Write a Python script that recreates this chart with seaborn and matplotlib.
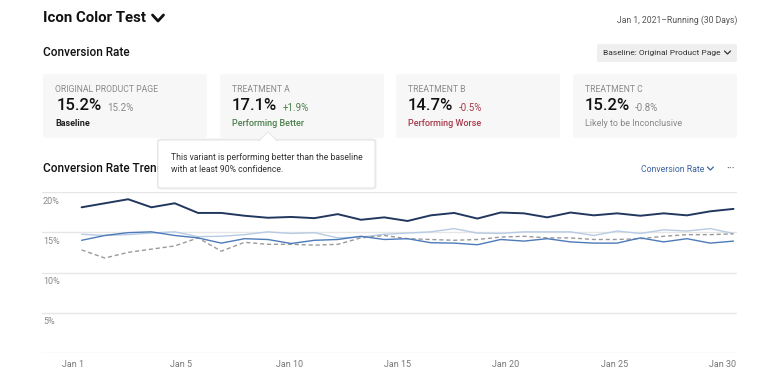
import numpy as np
import pandas as pd
import seaborn as sns
import matplotlib.pyplot as plt
from matplotlib.patches import FancyBboxPatch, Polygon
from matplotlib.lines import Line2D

W, H = 784, 378

# daily conversion rate (%)
day_index = list(range(29))
treatment_a = [18.1, 18.6, 19.1, 18.1, 18.6, 17.4, 17.4, 17.05, 16.8, 16.9,
               16.75, 17.25, 16.55, 16.85, 16.4, 17.1, 17.4, 16.7, 17.45, 17.35,
               16.85, 17.45, 17.1, 17.35, 17.05, 17.35, 17.1, 17.6, 17.9]
treatment_b = [14.0, 14.6, 14.95, 15.05, 14.6, 14.3, 13.65, 14.2, 14.1, 13.6,
               14.0, 14.1, 14.5, 14.1, 14.2, 13.7, 13.65, 13.45, 14.1, 13.9,
               14.2, 13.8, 13.65, 13.65, 14.3, 13.8, 14.2, 13.65, 13.9]
treatment_c = [14.75, 14.6, 14.7, 14.9, 15.05, 14.45, 14.5, 14.7, 15.05, 14.85,
               14.95, 14.3, 14.4, 14.75, 14.9, 15.05, 15.45, 14.9, 14.85, 15.05,
               15.05, 15.05, 14.6, 15.15, 14.85, 15.3, 15.15, 15.45, 14.85]
original = [12.8, 11.8, 12.5, 12.9, 13.3, 14.3, 12.65, 13.75, 13.5, 13.5,
            13.4, 13.5, 14.3, 14.6, 14.2, 14.1, 14.0, 14.1, 14.4, 14.5,
            14.3, 14.3, 14.1, 14.1, 14.2, 14.5, 14.7, 14.7, 14.8]

x_labels = ["Jan 1", "Jan 5", "Jan 10", "Jan 15", "Jan 20", "Jan 25", "Jan 30"]
y_ticks = [5, 10, 15, 20]
y_labels = ["5%", "10%", "15%", "20%"]

card_titles = ["ORIGINAL PRODUCT PAGE", "TREATMENT A", "TREATMENT B", "TREATMENT C"]
card_values = ["15.2%", "17.1%", "14.7%", "15.2%"]
card_deltas = ["15.2%", "+1.9%", "-0.5%", "-0.8%"]
card_status = ["Baseline", "Performing Better", "Performing Worse", "Likely to be Inconclusive"]


def fx(px):
    return px / W


def fy(py):
    return 1 - py / H


def chevron(fig, cx, cy, w, h, color, lw):
    fig.add_artist(Line2D([fx(cx - w / 2), fx(cx), fx(cx + w / 2)],
                          [fy(cy - h / 2), fy(cy + h / 2), fy(cy - h / 2)],
                          color=color, lw=lw, solid_capstyle='round',
                          solid_joinstyle='round'))


def right_edge(fig, txt):
    # pixel x of the right end of a text
    bb = txt.get_window_extent(fig.canvas.get_renderer())
    return bb.x1


sns.set_theme(style="white")
plt.rcParams['font.family'] = ['Roboto', 'DejaVu Sans']

fig = plt.figure(figsize=(W / 100, H / 100), dpi=100)
fig.patch.set_facecolor('white')

# header
t = fig.text(fx(43), fy(18), "Icon Color Test", fontsize=10.8, fontweight='bold',
             color='#111111', va='center', ha='left')
chevron(fig, right_edge(fig, t) + 12, 18, 11, 6, '#111111', 2.0)
fig.text(fx(737), fy(20), "Jan 1, 2021\u2013Running (30 Days)", fontsize=6.2,
         color='#555555', va='center', ha='right')
fig.text(fx(43), fy(52), "Conversion Rate", fontsize=8.5, fontweight='medium',
         color='#111111', va='center', ha='left')

# baseline dropdown
fig.add_artist(FancyBboxPatch((fx(597), fy(62)), fx(140), 18 / H,
                              boxstyle="round,pad=0,rounding_size=0.004",
                              fc='#efefef', ec='none', transform=fig.transFigure))
t = fig.text(fx(603), fy(53), "Baseline: Original Product Page", fontsize=6.0,
             color='#333333', va='center', ha='left')
chevron(fig, right_edge(fig, t) + 7, 52.5, 6, 3, '#333333', 0.9)

# metric cards
card_left = [43, 220, 396, 573]
delta_colors = ['#888888', '#4b7f4b', '#a83a4a', '#888888']
status_colors = ['#222222', '#4b7f4b', '#a83a4a', '#888888']
status_weight = ['bold', 'medium', 'medium', 'normal']
for i in range(4):
    x0 = card_left[i]
    fig.add_artist(FancyBboxPatch((fx(x0), fy(138)), fx(164), 64 / H,
                                  boxstyle="round,pad=0,rounding_size=0.005",
                                  fc='#f7f7f7', ec='none', transform=fig.transFigure))
    fig.text(fx(x0 + 12), fy(89), card_titles[i], fontsize=6.2, color='#8a8a8a',
             va='center', ha='left')
    t = fig.text(fx(x0 + 14 if i == 0 else x0 + 12), fy(106), card_values[i],
                 fontsize=12, fontweight='medium', color='#111111',
                 va='center', ha='left')
    fig.text(fx(right_edge(fig, t) + 5), fy(108), card_deltas[i], fontsize=7.0,
             color=delta_colors[i], va='center', ha='left')
    fig.text(fx(x0 + 12), fy(124), card_status[i], fontsize=6.5,
             fontweight=status_weight[i], color=status_colors[i], va='center', ha='left')

# trend header
fig.text(fx(43), fy(169), "Conversion Rate Trend", fontsize=8.5, fontweight='medium',
         color='#111111', va='center', ha='left', zorder=1)
t = fig.text(fx(641), fy(169), "Conversion Rate", fontsize=6.3, color='#3c64a0',
             va='center', ha='left')
chevron(fig, right_edge(fig, t) + 6, 168.5, 6, 3, '#3c64a0', 0.9)
fig.text(fx(731), fy(168), "\u00b7\u00b7\u00b7", fontsize=7, fontweight='bold',
         color='#777777', va='center', ha='center')

# tooltip
fig.add_artist(FancyBboxPatch((fx(157), fy(189.5)), fx(219.5), 51 / H,
                              boxstyle="round,pad=0,rounding_size=0.006",
                              fc='#e6e6e6', ec='none', alpha=0.7,
                              transform=fig.transFigure, zorder=5))
fig.add_artist(FancyBboxPatch((fx(158), fy(188)), fx(217), 48 / H,
                              boxstyle="round,pad=0,rounding_size=0.006",
                              fc='white', ec='#e2e2e2', lw=0.6,
                              transform=fig.transFigure, zorder=6))
fig.add_artist(Polygon([(fx(259), fy(140.5)), (fx(268), fy(132)), (fx(277), fy(140.5))],
                       closed=True, fc='white', ec='#e2e2e2', lw=0.6,
                       transform=fig.transFigure, zorder=6))
fig.add_artist(Polygon([(fx(259.8), fy(141)), (fx(268), fy(133)), (fx(276.2), fy(141))],
                       closed=True, fc='white', ec='none',
                       transform=fig.transFigure, zorder=7))
fig.text(fx(171), fy(158), "This variant is performing better than the baseline",
         fontsize=6.2, color='#333333', va='center', ha='left', zorder=8)
fig.text(fx(171), fy(169.5), "with at least 90% confidence.",
         fontsize=6.2, color='#333333', va='center', ha='left', zorder=8)

# chart
ax = fig.add_axes([fx(42), fy(353), fx(695), 161 / H])
df = pd.DataFrame({
    'day': day_index * 4,
    'rate': treatment_a + treatment_b + treatment_c + original,
    'series': (['Treatment A'] * 29 + ['Treatment B'] * 29 +
               ['Treatment C'] * 29 + ['Original Product Page'] * 29),
})
palette = {'Treatment A': '#22375e', 'Treatment B': '#4d7ab8',
           'Treatment C': '#b7cbe4', 'Original Product Page': '#9a9a9a'}
order = ['Treatment C', 'Original Product Page', 'Treatment B', 'Treatment A']
for name in order:
    sub = df[df['series'] == name]
    sns.lineplot(data=sub, x='day', y='rate', ax=ax, color=palette[name],
                 lw=1.4 if name == 'Treatment A' else 1.0,
                 linestyle='--' if name == 'Original Product Page' else '-',
                 legend=False)
for ln in ax.lines:
    if ln.get_linestyle() == '--':
        ln.set_dashes((3, 2))

ax.set_xlim(-1.7, 28.15)
ax.set_ylim(0, 20)
for v in [0] + y_ticks:
    ax.axhline(v, color='#e6e6e6', lw=1.0, zorder=0)
for v, lab in zip(y_ticks, y_labels):
    ax.annotate(lab, xy=(0, v), xycoords=('axes fraction', 'data'),
                xytext=(1, -9), textcoords='offset pixels', fontsize=6.5,
                color='#888888', va='center', ha='left')
ax.set_xticks(np.linspace(-0.37, 27.52, len(x_labels)))
ax.set_xticklabels(x_labels, fontsize=6.5, color='#777777')
ax.tick_params(axis='x', length=0, pad=5)
ax.set_yticks([])
ax.set_xlabel('')
ax.set_ylabel('')
for s in ax.spines.values():
    s.set_visible(False)
ax.set_facecolor('none')

fig.savefig('out.png', dpi=100, facecolor='white')
